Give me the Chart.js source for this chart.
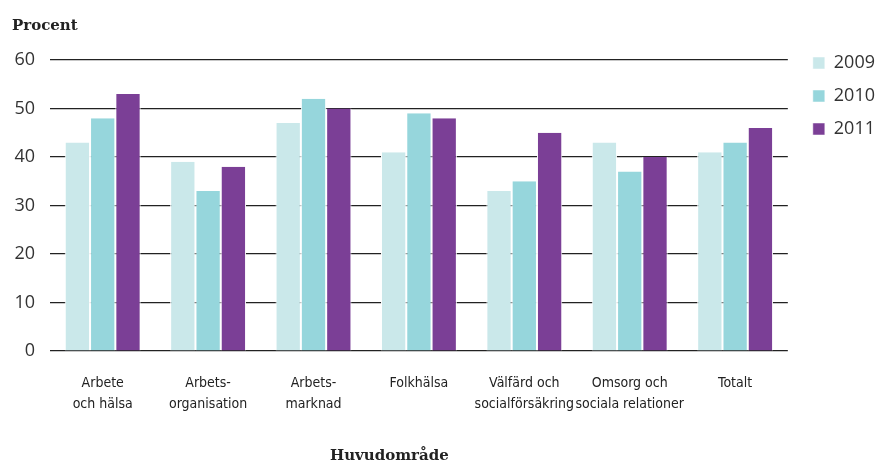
<!DOCTYPE html>
<html>
<head>
<meta charset="utf-8">
<script src="https://cdn.jsdelivr.net/npm/chart.js@4"></script>
<style>
  body { margin: 0; background: #fff; }
  #wrap { position: relative; width: 878px; height: 462px; }
  .ttl { position: absolute; font-family: "DejaVu Serif", serif; font-weight: bold; font-size: 15px; color: #222; }
</style>
</head>
<body>
<div id="wrap">
  <canvas id="barChart" width="878" height="462"></canvas>
  <div class="ttl" style="left:12px; top:16px;">Procent</div>
  <div class="ttl" style="left:330px; top:446px;">Huvudområde</div>
</div>
<script>
const categories = [
  ['Arbete', 'och hälsa'],
  ['Arbets-', 'organisation'],
  ['Arbets-', 'marknad'],
  'Folkhälsa',
  ['Välfärd och', 'socialförsäkring'],
  ['Omsorg och', 'sociala relationer'],
  'Totalt'
];
const years = ['2009', '2010', '2011'];
const values2009 = [43, 39, 47, 41, 33, 43, 41];
const values2010 = [48, 33, 52, 49, 35, 37, 43];
const values2011 = [53, 38, 50, 48, 45, 40, 46];
const yTicks = [0, 10, 20, 30, 40, 50, 60];

const colors = ['#cae8ea', '#96d6dc', '#7b3f96'];

// nudge the legend up/right so it sits beside the top gridlines
const legendShift = {
  id: 'legendShift',
  afterLayout: function (chart) {
    const lg = chart.legend;
    if (!lg) return;
    lg.top -= 21;
    lg.bottom -= 21;
    lg.left += 10;
    lg.right += 10;
  }
};

document.addEventListener("DOMContentLoaded", function () {
  const ctx = document.getElementById("barChart").getContext("2d");

  new Chart(ctx, {
    type: 'bar',
    data: {
      labels: categories,
      datasets: [values2009, values2010, values2011].map(function (vals, i) {
        return {
          label: years[i],
          data: vals,
          backgroundColor: colors[i],
          borderColor: '#fff',
          borderWidth: { left: 1, right: 1 },
          borderSkipped: 'bottom',
          categoryPercentage: 0.72,
          barPercentage: 1
        };
      })
    },
    options: {
      responsive: false,
      animation: false,
      layout: { padding: { top: 60, left: 8, right: 3, bottom: 0 } },
      plugins: {
        legend: {
          position: 'right',
          align: 'start',
          labels: {
            boxWidth: 12,
            boxHeight: 12,
            padding: 15,
            color: '#333',
            font: { family: 'Open Sans', size: 18 }
          }
        },
        tooltip: { enabled: false }
      },
      scales: {
        x: {
          grid: { display: false, drawTicks: false },
          border: { display: false },
          ticks: {
            color: '#222',
            padding: 22,
            maxRotation: 0,
            autoSkip: false,
            font: { family: 'DejaVu Sans Condensed', size: 14, lineHeight: 1.5 }
          },
          afterFit: function (scale) { scale.height = 111; }
        },
        y: {
          min: 0,
          max: 60,
          afterBuildTicks: function (scale) {
            scale.ticks = yTicks.map(function (v) { return { value: v }; });
          },
          grid: { color: '#222', lineWidth: 1.2, drawTicks: false },
          border: { display: false },
          ticks: {
            color: '#333',
            padding: 15,
            font: { family: 'Open Sans', size: 18 }
          },
          afterFit: function (scale) { scale.width = 42; }
        }
      }
    },
    plugins: [legendShift]
  });
});
</script>
</body>
</html>
